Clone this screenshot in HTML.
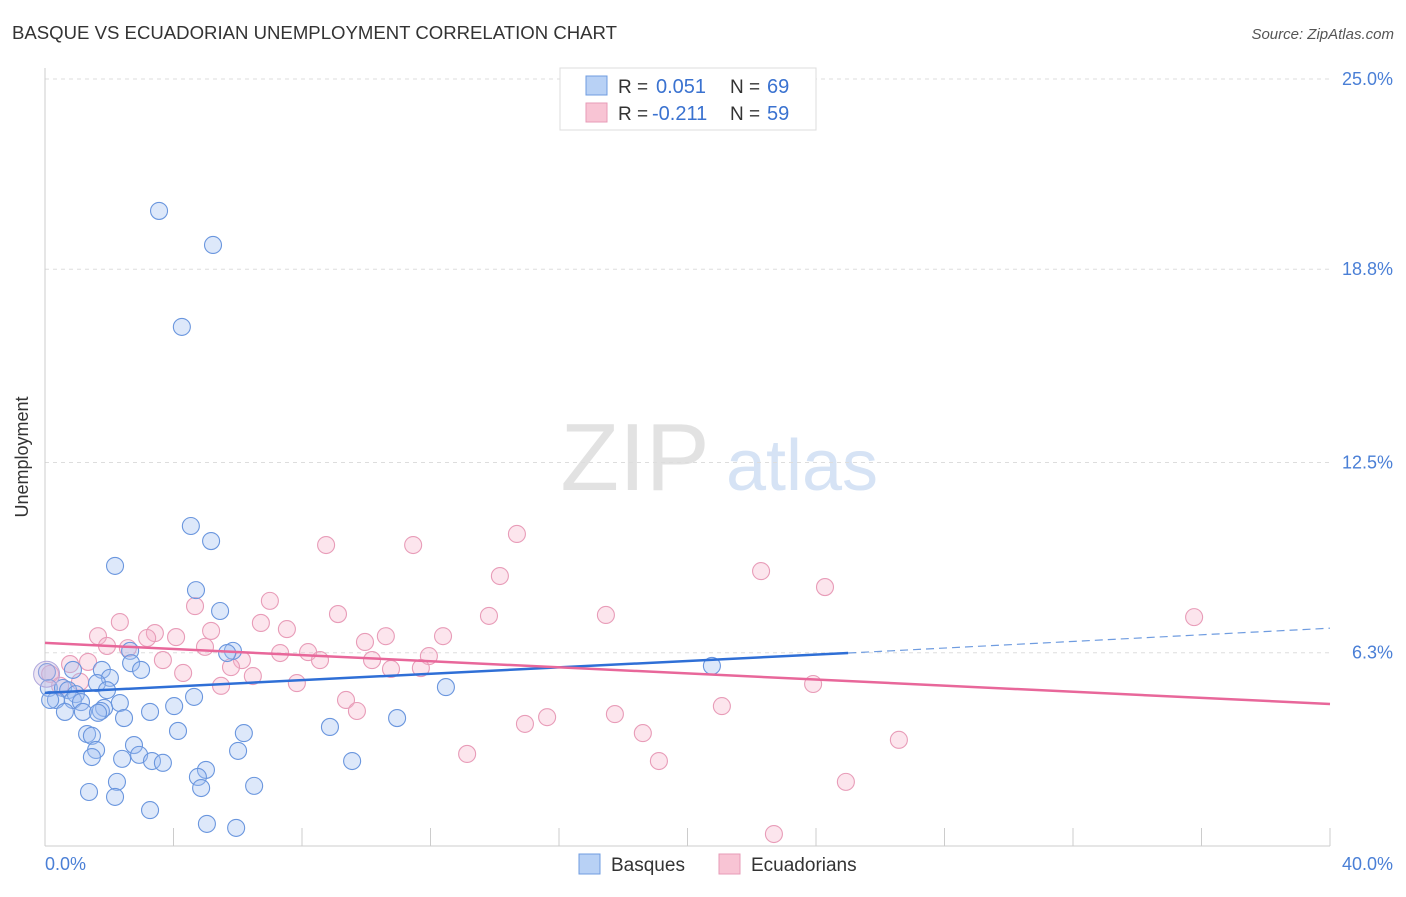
<!DOCTYPE html>
<html><head><meta charset="utf-8"><style>
body{margin:0;background:#fff;font-family:"Liberation Sans",sans-serif;}
svg text{font-family:"Liberation Sans",sans-serif;}
</style></head><body>
<svg id="chart" width="1406" height="892" xmlns="http://www.w3.org/2000/svg">
<text x="12" y="39" font-size="18" fill="#333" textLength="605" lengthAdjust="spacingAndGlyphs">BASQUE VS ECUADORIAN UNEMPLOYMENT CORRELATION CHART</text>
<text x="1394" y="39" font-size="15" fill="#555" font-style="italic" text-anchor="end">Source: ZipAtlas.com</text>
<g>
<text x="635" y="490" font-size="96" fill="#e2e2e2" font-family="Liberation Serif" text-anchor="middle">ZIP</text>
<text x="802" y="490" font-size="72" fill="#d6e3f5" text-anchor="middle">atlas</text>
</g>
<g id="grid"></g>
<g id="axes"></g>
<g id="lines"></g>
<g id="pts"></g>
<text x="28" y="457" font-size="18" fill="#333" transform="rotate(-90 28 457)" text-anchor="middle">Unemployment</text>
<text x="45" y="870" font-size="18" fill="#4a7fd6">0.0%</text>
<text x="1393" y="870" font-size="18" fill="#4a7fd6" text-anchor="end">40.0%</text>
<g>
<rect x="560" y="68" width="256" height="62" fill="#fff" stroke="#ddd"/>
<rect x="586" y="76" width="21" height="19" fill="#b8d1f5" stroke="#6f9ce0"/>
<rect x="586" y="103" width="21" height="19" fill="#f8c4d4" stroke="#e79bb7"/>
<text x="618" y="93" font-size="19" fill="#333">R =</text>
<text x="656" y="93" font-size="20" fill="#3a72d0">0.051</text>
<text x="730" y="93" font-size="19" fill="#333">N =</text>
<text x="767" y="93" font-size="20" fill="#3a72d0">69</text>
<text x="618" y="120" font-size="19" fill="#333">R =</text>
<text x="652" y="120" font-size="20" fill="#3a72d0">-0.211</text>
<text x="730" y="120" font-size="19" fill="#333">N =</text>
<text x="767" y="120" font-size="20" fill="#3a72d0">59</text>
</g>
<g><rect x="579" y="854" width="21" height="20" fill="#b8d1f5" stroke="#6f9ce0"/><text x="611" y="871" font-size="19" fill="#333">Basques</text></g>
<g><rect x="719" y="854" width="21" height="20" fill="#f8c4d4" stroke="#e79bb7"/><text x="751" y="871" font-size="19" fill="#333">Ecuadorians</text></g>
</svg>
<script>
const yTicks=[25,18.8,12.5,6.3];
const yTickLabels=["25.0%","18.8%","12.5%","6.3%"];
const xTicks=[4,8,12,16,20,24,28,32,36,40];
const basqueX=[3.55,5.23,4.26,4.54,5.17,2.18,4.70,5.45,5.85,5.67,2.65,2.68,2.99,1.77,2.02,0.87,0.06,1.62,1.93,0.12,0.56,0.72,0.96,0.34,0.16,0.87,1.12,1.84,2.33,1.74,1.18,0.62,1.65,2.46,3.27,4.02,4.64,12.48,10.96,8.87,4.14,6.19,1.31,1.46,2.77,1.59,6.01,2.93,1.46,2.40,3.33,3.67,9.56,5.01,4.76,2.24,4.86,6.51,1.37,2.18,3.27,5.04,5.95,20.76];
const basqueY=[20.70,19.59,16.92,10.43,9.94,9.13,8.34,7.66,6.36,6.29,6.36,5.96,5.74,5.74,5.48,5.74,5.67,5.31,5.08,5.15,5.15,5.08,4.95,4.76,4.76,4.76,4.69,4.50,4.66,4.40,4.37,4.37,4.34,4.17,4.37,4.56,4.86,5.18,4.17,3.88,3.75,3.68,3.65,3.59,3.29,3.13,3.10,2.97,2.90,2.84,2.77,2.71,2.77,2.48,2.25,2.09,1.89,1.96,1.76,1.60,1.17,0.72,0.59,5.87];
const ecuX=[14.69,8.75,11.46,14.16,22.29,24.28,35.77,2.33,4.67,7.00,9.12,13.82,17.46,6.72,7.53,5.17,3.42,1.65,3.18,4.08,1.93,2.58,4.98,9.96,10.61,12.39,7.32,8.19,8.56,10.18,11.95,10.77,11.70,3.67,6.13,5.79,1.34,0.78,4.30,6.47,5.48,7.84,23.91,9.37,9.71,21.07,15.63,17.74,14.94,18.61,26.58,13.14,19.11,24.93,22.69,0.16,0.47,1.09];
const ecuY=[10.17,9.81,9.81,8.80,8.96,8.44,7.46,7.30,7.82,7.99,7.56,7.50,7.53,7.27,7.07,7.01,6.94,6.84,6.78,6.81,6.52,6.45,6.49,6.65,6.84,6.84,6.29,6.32,6.06,6.06,6.19,5.77,5.80,6.06,6.06,5.83,6.00,5.93,5.64,5.54,5.22,5.31,5.28,4.76,4.40,4.56,4.20,4.30,3.98,3.68,3.46,3.00,2.77,2.09,0.39,5.61,5.22,5.35];
const basqueTrend=[4.99,6.29,7.1]; // at x=0, 25, 40
const ecuTrend=[6.62,4.63]; // at x=0, 40
const NS="http://www.w3.org/2000/svg";
const sx=v=>45+v*32.125, sy=v=>846-v*30.68;
function mk(tag,attrs,parent){const e=document.createElementNS(NS,tag);for(const k in attrs)e.setAttribute(k,attrs[k]);parent.appendChild(e);return e;}
const grid=document.getElementById('grid'),axes=document.getElementById('axes'),lines=document.getElementById('lines'),pts=document.getElementById('pts');
yTicks.forEach((t,i)=>{
 const l=mk('line',{x1:45,x2:1330,y1:sy(t),y2:sy(t),stroke:'#ddd','stroke-dasharray':'4,4'},grid);
 
 
 const tx=mk('text',{x:1393,y:sy(t)+6,'font-size':18,fill:'#4a7fd6','text-anchor':'end'},grid);
 tx.textContent=yTickLabels[i];
 
 
});
const ya=mk('line',{x1:45,x2:45,y1:68,y2:846,stroke:'#ccc'},axes);


const xa=mk('line',{x1:45,x2:1330,y1:846,y2:846,stroke:'#ccc'},axes);


xTicks.forEach(t=>{const l=mk('line',{x1:sx(t),x2:sx(t),y1:828,y2:846,stroke:'#ccc'},axes);
 
 });
function dot(x,y,fill,stroke,name){const c=mk('circle',{cx:sx(x),cy:sy(y),r:8.5,fill:fill,stroke:stroke,'stroke-width':1.1},pts);
 
 }
ecuX.forEach((x,i)=>dot(x,ecuY[i],'rgba(246,176,200,0.33)','#e89cb8','ecuadorian-point'));
basqueX.forEach((x,i)=>dot(x,basqueY[i],'rgba(160,192,242,0.36)','#6a96de','basque-point'));
const big=mk('circle',{cx:sx(0.05),cy:sy(5.6),r:13,fill:'rgba(200,180,220,0.35)',stroke:'#b0a8dc'},pts);


const bl=mk('line',{x1:sx(0),y1:sy(basqueTrend[0]),x2:sx(25),y2:sy(basqueTrend[1]),stroke:'#2f6fd6','stroke-width':2.5},pts);


const bd=mk('line',{x1:sx(25),y1:sy(basqueTrend[1]),x2:sx(40),y2:sy(basqueTrend[2]),stroke:'#6f9ce0','stroke-width':1.2,'stroke-dasharray':'8,5'},pts);


const el=mk('line',{x1:sx(0),y1:sy(ecuTrend[0]),x2:sx(40),y2:sy(ecuTrend[1]),stroke:'#e8679a','stroke-width':2.5},pts);


</script>
</body></html>
